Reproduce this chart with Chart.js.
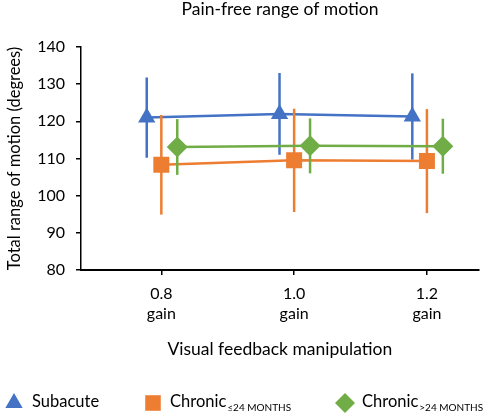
<!DOCTYPE html>
<html>
<head>
<meta charset="utf-8">
<script src="https://cdn.jsdelivr.net/npm/chart.js@4.4.1/dist/chart.umd.min.js"></script>
<style>
  body { margin: 0; background: #fff; }
  #wrap { width: 490px; height: 413px; position: relative; }
</style>
</head>
<body>
<div id="wrap"><canvas id="rom"></canvas></div>
<script>
var gains = [0.8, 1.0, 1.2];
var gainLabels = ['0.8', '1.0', '1.2'];
var yTicks = [80, 90, 100, 110, 120, 130, 140];

var subacute = [121.0, 122.0, 121.3];
var subacuteErr = [10.8, 11.0, 11.6];
var chronicShort = [108.3, 109.5, 109.3];
var chronicShortErr = [13.4, 13.9, 14.0];
var chronicLong = [113.1, 113.4, 113.3];
var chronicLongErr = [7.5, 7.4, 7.4];

var FONT = 'Lato, "Open Sans", sans-serif';
var blue = '#4472C4', orange = '#ED7D31', green = '#70AD47';

function points(values, shift) {
  var out = [];
  for (var i = 0; i < values.length; i++) {
    out.push({ x: gains[i] + shift, y: values[i] });
  }
  return out;
}

var errors = [subacuteErr, chronicShortErr, chronicLongErr];
var means = [subacute, chronicShort, chronicLong];

// error bars drawn under each dataset's markers
var errorBars = {
  id: 'errorBars',
  beforeDatasetDraw: function(chart, args) {
    var i = args.index;
    var meta = chart.getDatasetMeta(i);
    var y = chart.scales.y;
    var ctx = chart.ctx;
    ctx.save();
    ctx.strokeStyle = chart.data.datasets[i].borderColor;
    ctx.lineWidth = 2.5;
    meta.data.forEach(function(pt, j) {
      ctx.beginPath();
      ctx.moveTo(pt.x, y.getPixelForValue(means[i][j] + errors[i][j]));
      ctx.lineTo(pt.x, y.getPixelForValue(means[i][j] - errors[i][j]));
      ctx.stroke();
    });
    ctx.restore();
  }
};

// title and legend with subscripts
var extras = {
  id: 'extras',
  afterDraw: function(chart) {
    var ctx = chart.ctx;
    ctx.save();
    ctx.fillStyle = '#000';
    ctx.textBaseline = 'middle';
    ctx.textAlign = 'center';
    ctx.font = '17.5px ' + FONT;
    ctx.fillText('Pain-free range of motion', 280, 9);

    var ly = 403;
    var items = [
      { style: 'triangle', color: blue, r: 10, mx: 14, tx: 32, text: 'Subacute', sub: '' },
      { style: 'rect', color: orange, r: 11, mx: 153, tx: 170, text: 'Chronic', sub: '\u226424 MONTHS' },
      { style: 'rectRot', color: green, r: 10, mx: 345, tx: 362, text: 'Chronic', sub: '>24 MONTHS' }
    ];
    ctx.textAlign = 'left';
    items.forEach(function(it) {
      ctx.fillStyle = it.color;
      ctx.strokeStyle = it.color;
      Chart.helpers.drawPoint(ctx, { pointStyle: it.style, radius: it.r, rotation: 0, borderWidth: 0 }, it.mx, ly);
      ctx.fillStyle = '#000';
      ctx.font = '16.5px ' + FONT;
      ctx.fillText(it.text, it.tx, ly - 1);
      if (it.sub) {
        var w = ctx.measureText(it.text).width;
        ctx.font = '10px ' + FONT;
        ctx.fillText(it.sub, it.tx + w + 1, ly + 5);
      }
    });
    ctx.restore();
  }
};

function series(label, values, shift, color, style, radius) {
  return {
    label: label,
    data: points(values, shift),
    borderColor: color,
    backgroundColor: color,
    borderWidth: 2.5,
    pointStyle: style,
    pointRadius: radius,
    pointBorderWidth: 0,
    pointHoverRadius: radius,
    showLine: true,
    fill: false,
    tension: 0
  };
}

var ctx = document.getElementById('rom').getContext('2d');
var chart = new Chart(ctx, {
  type: 'line',
  data: {
    datasets: [
      Object.assign(series('Subacute', subacute, -0.022, blue, 'triangle', 10), { order: 2 }),
      Object.assign(series('Chronic \u226424 months', chronicShort, 0, orange, 'rect', 11.3), { order: 1 }),
      Object.assign(series('Chronic >24 months', chronicLong, 0.024, green, 'rectRot', 10.5), { order: 0 })
    ]
  },
  options: {
    responsive: true,
    maintainAspectRatio: false,
    animation: false,
    layout: { padding: { top: 47, right: 7, bottom: 53, left: 0 } },
    plugins: {
      legend: { display: false },
      title: { display: false },
      tooltip: { enabled: false }
    },
    scales: {
      x: {
        type: 'linear',
        min: 0.679,
        max: 1.278,
        afterFit: function(scale) { scale.height = 90; },
        afterBuildTicks: function(scale) {
          scale.ticks = gains.map(function(v) { return { value: v }; });
        },
        ticks: {
          padding: 9,
          color: '#000',
          font: { family: FONT, size: 16, lineHeight: 1.25 },
          maxRotation: 0,
          callback: function(value) {
            var i = gains.indexOf(Math.round(value * 10) / 10);
            return i < 0 ? '' : [gainLabels[i], 'gain'];
          }
        },
        grid: { drawOnChartArea: false, drawTicks: true, tickLength: 5, color: '#000', lineWidth: 1.5 },
        border: { color: '#000', width: 2 },
        title: {
          display: true,
          text: 'Visual feedback manipulation',
          color: '#000',
          font: { family: FONT, size: 17.5 },
          padding: { top: 0, bottom: 0 }
        }
      },
      y: {
        min: 80,
        max: 140,
        afterFit: function(scale) { scale.width = 81; },
        afterBuildTicks: function(scale) {
          scale.ticks = yTicks.map(function(v) { return { value: v }; });
        },
        ticks: {
          padding: 11,
          color: '#000',
          font: { family: FONT, size: 16 }
        },
        grid: { drawOnChartArea: false, drawTicks: true, tickLength: 5, color: '#000', lineWidth: 1.5 },
        border: { color: '#000', width: 1.5 },
        title: {
          display: true,
          text: 'Total range of motion (degrees)',
          color: '#000',
          font: { family: FONT, size: 16.5 },
          padding: { top: 5, bottom: 0 }
        }
      }
    }
  },
  plugins: [errorBars, extras]
});
</script>
</body>
</html>
